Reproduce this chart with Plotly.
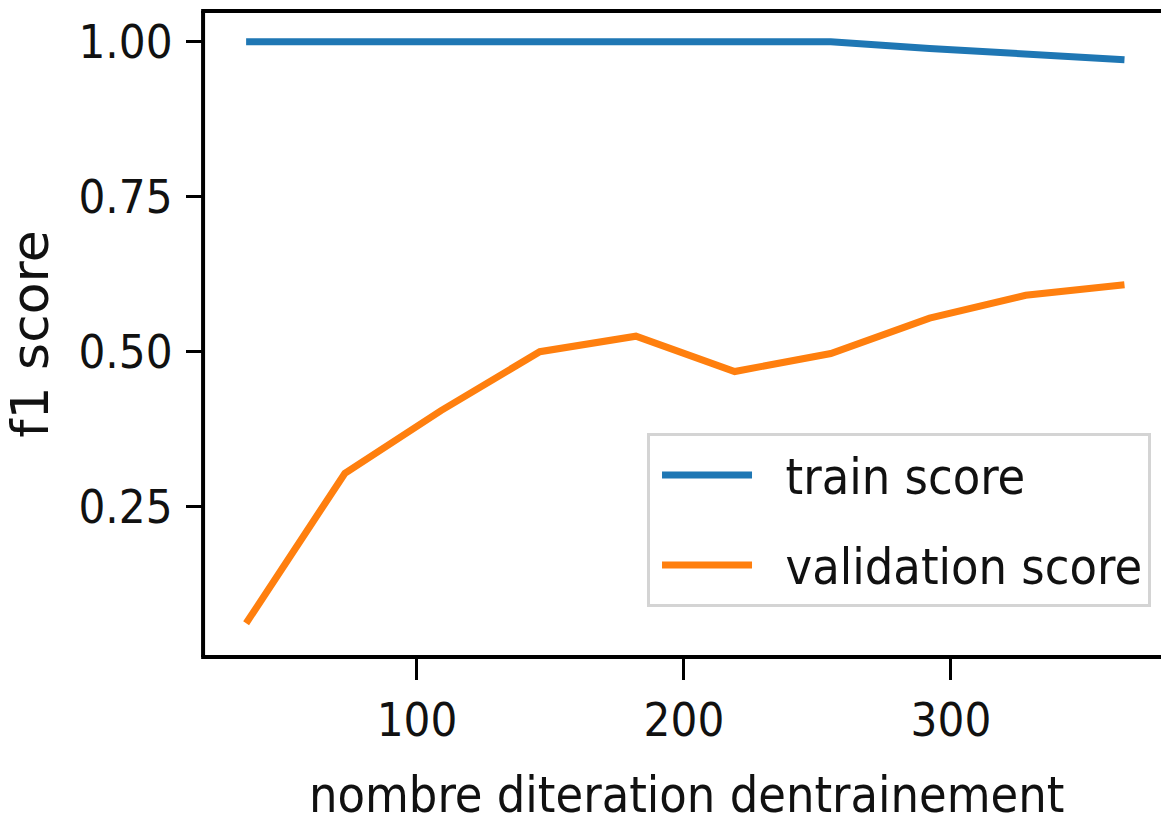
import plotly.graph_objects as go

# learning-curve results
train_sizes = [36, 73, 109, 146, 182, 219, 255, 292, 328, 365]
train_scores = [1.0, 1.0, 1.0, 1.0, 1.0, 1.0, 1.0, 0.989, 0.979, 0.971]
val_scores = [0.062, 0.304, 0.405, 0.500, 0.525, 0.468, 0.497, 0.554, 0.591, 0.608]

x_ticks = [100, 200, 300]
y_ticks = [0.25, 0.50, 0.75, 1.00]
y_tick_text = ["0.25", "0.50", "0.75", "1.00"]

x_title = "nombre diteration dentrainement"
y_title = "f1 score"

BLUE = "#1f77b4"
ORANGE = "#ff7f0e"
COND = "DejaVu Sans Condensed, DejaVu Sans"
INK = "#111111"

fig = go.Figure()
fig.add_trace(go.Scatter(x=train_sizes, y=train_scores, mode="lines",
                         name="\u00a0\u00a0train score", legendgroup="a",
                         line=dict(color=BLUE, width=7)))
fig.add_trace(go.Scatter(x=train_sizes, y=val_scores, mode="lines",
                         name="\u00a0\u00a0validation score", legendgroup="b",
                         line=dict(color=ORANGE, width=7)))

# axes frame: left, bottom and top spines
spine = dict(color="black", width=4)
fig.add_shape(type="line", xref="paper", yref="paper",
              x0=-0.002, x1=-0.002, y0=-0.003, y1=1.003, line=spine, layer="above")
fig.add_shape(type="line", xref="paper", yref="paper",
              x0=-0.004, x1=0.999, y0=-0.003, y1=-0.003, line=spine, layer="above")
fig.add_shape(type="line", xref="paper", yref="paper",
              x0=-0.004, x1=0.999, y0=1.003, y1=1.003, line=spine, layer="above")

# x-axis title
fig.add_annotation(text=x_title, xref="paper", yref="paper",
                   x=0.5, y=-0.218, xanchor="center", yanchor="middle",
                   showarrow=False,
                   font=dict(family=COND, size=50, color=INK))

fig.update_layout(
    width=1168, height=823,
    margin=dict(l=205, r=0, t=13, b=168, autoexpand=False),
    paper_bgcolor="white", plot_bgcolor="white",
    font=dict(family=COND, color=INK),
    showlegend=True,
    legend=dict(
        x=0.459, y=0.3458, xanchor="left", yanchor="top",
        bgcolor="white", bordercolor="#d4d4d4", borderwidth=3,
        font=dict(family=COND, size=50, color=INK),
        itemwidth=90, tracegroupgap=22, indentation=7,
    ),
    xaxis=dict(
        range=[20.6, 381.3], tickvals=x_ticks,
        showgrid=False, zeroline=False, automargin=False,
        showline=False,
        ticks="outside", ticklen=24, tickwidth=3, tickcolor="black",
        tickfont=dict(family=COND, size=47, color=INK),
    ),
    yaxis=dict(
        range=[0.0108, 1.0463], tickvals=y_ticks, ticktext=y_tick_text,
        showgrid=False, zeroline=False, automargin=False,
        showline=False,
        ticks="outside", ticklen=18, tickwidth=3, tickcolor="black",
        ticklabelstandoff=4,
        tickfont=dict(family=COND, size=47, color=INK),
        title=dict(text=y_title,
                   font=dict(family="DejaVu Sans", size=52, color=INK),
                   standoff=20),
    ),
)

fig.write_html("out.html")
